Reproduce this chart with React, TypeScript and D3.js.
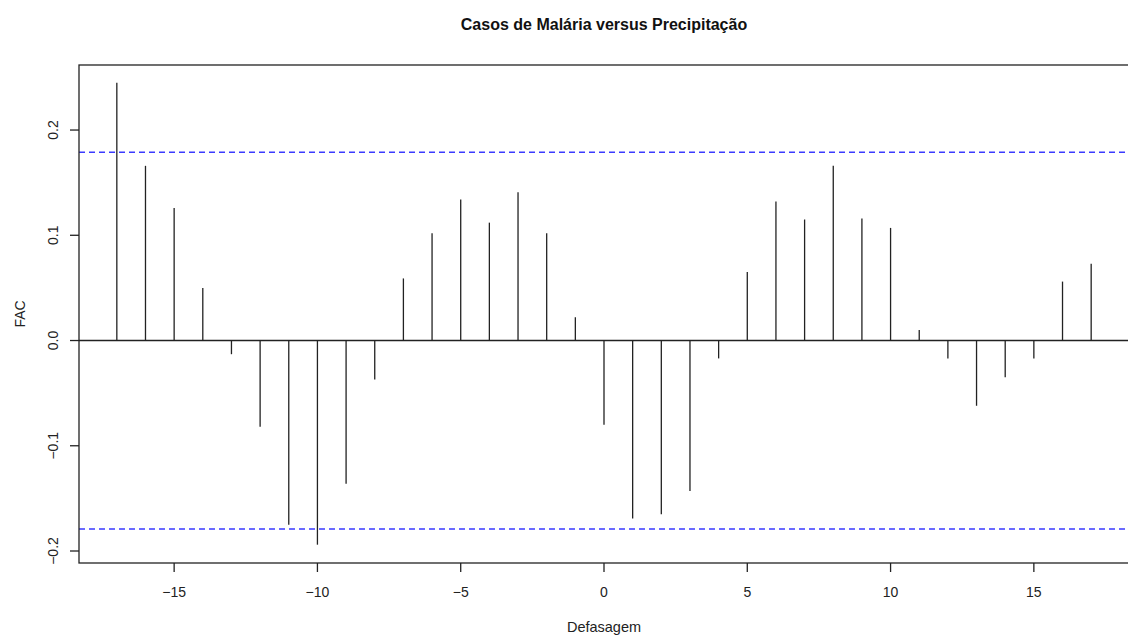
import { useMemo } from 'react';
import * as d3 from 'd3';

const lags = [
  -17, -16, -15, -14, -13, -12, -11, -10, -9, -8, -7, -6, -5, -4, -3, -2, -1, 0,
  1, 2, 3, 4, 5, 6, 7, 8, 9, 10, 11, 12, 13, 14, 15, 16, 17,
];
const fac = [
  0.245, 0.166, 0.126, 0.05, -0.013, -0.082, -0.175, -0.194, -0.136, -0.037,
  0.059, 0.102, 0.134, 0.112, 0.141, 0.102, 0.022, -0.08, -0.169, -0.165,
  -0.143, -0.017, 0.065, 0.132, 0.115, 0.166, 0.116, 0.107, 0.01, -0.017,
  -0.062, -0.035, -0.017, 0.056, 0.073,
];
const ciBound = 0.179;
const xTicks = [-15, -10, -5, 0, 5, 10, 15];
const yTicks = [-0.2, -0.1, 0.0, 0.1, 0.2];

const WIDTH = 1128;
const HEIGHT = 639;
const PLOT = { left: 79, right: 1129, top: 65, bottom: 563 };
const FONT = 'Liberation Sans, Arial, sans-serif';

export default function App() {
  const { x, y } = useMemo(() => {
    const x = d3.scaleLinear().domain([-18.32, 18.32]).range([PLOT.left, PLOT.right]);
    const y = d3.scaleLinear().domain([-0.2114, 0.2618]).range([PLOT.bottom, PLOT.top]);
    return { x, y };
  }, []);

  const fmtY = (v: number) => (v === 0 ? '0.0' : d3.format('.1f')(v).replace('-', '\u2212'));
  const fmtX = (v: number) => String(v).replace('-', '\u2212');

  return (
    <svg
      width={WIDTH}
      height={HEIGHT}
      style={{ position: 'absolute', left: 0, top: 0, background: '#fff' }}
      fontFamily={FONT}
    >
      <rect x={0} y={0} width={WIDTH} height={HEIGHT} fill="#fff" />

      {/* Title */}
      <text x={x(0)} y={30} textAnchor="middle" fontSize={16} fontWeight={700} fill="#111">
        Casos de Malária versus Precipitação
      </text>

      {/* Zero line */}
      <line x1={PLOT.left} x2={PLOT.right} y1={y(0)} y2={y(0)} stroke="#222" strokeWidth={1.3} />

      {/* Confidence bounds */}
      {[ciBound, -ciBound].map((b) => (
        <line
          key={b}
          x1={PLOT.left}
          x2={PLOT.right}
          y1={y(b)}
          y2={y(b)}
          stroke="#3a3aff"
          strokeWidth={1.5}
          strokeDasharray="6 4"
        />
      ))}

      {/* Spikes */}
      {lags.map((l, i) => (
        <line
          key={l}
          x1={x(l)}
          x2={x(l)}
          y1={y(0)}
          y2={y(fac[i])}
          stroke="#222"
          strokeWidth={1.3}
        />
      ))}

      {/* Box */}
      <rect
        x={PLOT.left}
        y={PLOT.top}
        width={PLOT.right - PLOT.left}
        height={PLOT.bottom - PLOT.top}
        fill="none"
        stroke="#222"
        strokeWidth={1.3}
      />

      {/* X axis */}
      {xTicks.map((t) => (
        <g key={t}>
          <line x1={x(t)} x2={x(t)} y1={PLOT.bottom} y2={PLOT.bottom + 9} stroke="#222" strokeWidth={1.3} />
          <text x={x(t)} y={PLOT.bottom + 34} textAnchor="middle" fontSize={14} fill="#222">
            {fmtX(t)}
          </text>
        </g>
      ))}

      {/* Y axis */}
      {yTicks.map((t) => (
        <g key={t}>
          <line x1={PLOT.left - 9} x2={PLOT.left} y1={y(t)} y2={y(t)} stroke="#222" strokeWidth={1.3} />
          <text
            transform={`translate(${PLOT.left - 21},${y(t)}) rotate(-90)`}
            textAnchor="middle"
            fontSize={14}
            fill="#222"
          >
            {fmtY(t)}
          </text>
        </g>
      ))}

      {/* Axis labels */}
      <text x={x(0)} y={632} textAnchor="middle" fontSize={14.5} fill="#222">
        Defasagem
      </text>
      <text
        transform={`translate(25,${(PLOT.top + PLOT.bottom) / 2}) rotate(-90)`}
        textAnchor="middle"
        fontSize={14}
        fill="#222"
      >
        FAC
      </text>
    </svg>
  );
}
